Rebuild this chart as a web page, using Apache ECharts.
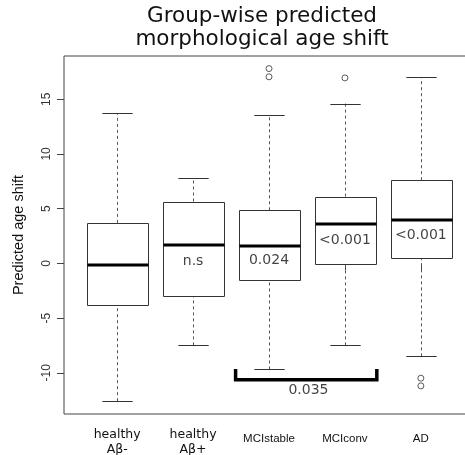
<!DOCTYPE html>
<html><head><meta charset="utf-8">
<script src="https://cdn.jsdelivr.net/npm/echarts@6/dist/echarts.min.js"></script>
<style>html,body{margin:0;padding:0;background:#fff}#c{width:465px;height:455px}</style>
</head><body><div id="c"></div>
<script>
const categories = ['healthy\nAβ-', 'healthy\nAβ+', 'MCIstable', 'MCIconv', 'AD'];
const lowerWhisker = [-12.6, -7.5, -9.7, -7.5, -8.5];
const q1 = [-3.8, -2.9, -1.55, 0.0, 0.45];
const median = [-0.15, 1.7, 1.55, 3.55, 4.0];
const q3 = [3.7, 5.65, 4.85, 6.1, 7.6];
const upperWhisker = [13.7, 7.8, 13.6, 14.6, 17.0];
const outlierGroup = [3, 3, 4, 5, 5];
const outlierValue = [17.8, 17.05, 16.95, -10.5, -11.2];
const yTicks = [-10, -5, 0, 5, 10, 15];
const xTicks = [1, 2, 3, 4, 5];
const pLabels = ['n.s', '0.024', '<0.001', '<0.001'];
const pGroup = [2, 3, 4, 5];
const pY = [0.15, 0.25, 2.1, 2.55];
const bracketX = [2.56, 2.56, 4.42, 4.42];
const bracketY = [-9.65, -10.65, -10.65, -9.65];
const bracketLabel = '0.035';
const bracketLabelPos = [3.52, -11.65];

const boxData = categories.map((c, i) => [i + 1, lowerWhisker[i], q1[i], median[i], q3[i], upperWhisker[i]]);

function px(v) { return Math.round(v) + 0.5; }

function renderBox(params, api) {
  const x = api.value(0);
  const pLow = api.coord([x, api.value(1)]);
  const pQ1 = api.coord([x, api.value(2)]);
  const pMed = api.coord([x, api.value(3)]);
  const pQ3 = api.coord([x, api.value(4)]);
  const pHigh = api.coord([x, api.value(5)]);
  const w = api.size([0.8, 0])[0];
  const cx = px(pMed[0]);
  const hw = w / 2, cw = w / 4;
  const dash = { stroke: '#555', lineWidth: 1, lineDash: [3, 3] };
  const solid = { stroke: '#333', lineWidth: 1 };
  return {
    type: 'group',
    children: [
      { type: 'line', shape: { x1: cx, y1: pLow[1], x2: cx, y2: pQ1[1] }, style: dash },
      { type: 'line', shape: { x1: cx, y1: pQ3[1], x2: cx, y2: pHigh[1] }, style: dash },
      { type: 'line', shape: { x1: cx - cw, y1: px(pLow[1]), x2: cx + cw, y2: px(pLow[1]) }, style: solid },
      { type: 'line', shape: { x1: cx - cw, y1: px(pHigh[1]), x2: cx + cw, y2: px(pHigh[1]) }, style: solid },
      { type: 'rect', shape: { x: Math.round(cx - hw) + 0.5, y: px(pQ3[1]), width: Math.round(w), height: Math.round(pQ1[1] - pQ3[1]) }, style: { fill: '#fff', stroke: '#333', lineWidth: 1 } },
      { type: 'line', shape: { x1: Math.round(cx - hw) + 0.5, y1: Math.round(pMed[1]), x2: Math.round(cx - hw) + 0.5 + Math.round(w), y2: Math.round(pMed[1]) }, style: { stroke: '#000', lineWidth: 3 } }
    ]
  };
}

const chart = echarts.init(document.getElementById('c'));
chart.setOption({
  animation: false,
  backgroundColor: '#fff',
  title: {
    text: 'Group-wise predicted\nmorphological age shift',
    left: 262, top: 5, padding: 0, textAlign: 'center',
    textStyle: { fontFamily: 'DejaVu Sans', fontSize: 21.5, fontWeight: 'normal', color: '#111', lineHeight: 23 }
  },
  grid: { left: 64, top: 56, width: 410, height: 358, outerBoundsMode: 'none', containLabel: false, show: true, borderColor: '#444', borderWidth: 1, backgroundColor: 'transparent' },
  xAxis: {
    type: 'value', min: 0.3, max: 5.7,
    axisLine: { show: false }, splitLine: { show: false },
    axisTick: { show: true, customValues: xTicks, length: 7, lineStyle: { color: '#444' } },
    axisLabel: {
      customValues: xTicks, margin: 28, verticalAlign: 'middle',
      formatter: function (v) {
        const c = categories[Math.round(v) - 1];
        if (!c) return '';
        if (c.indexOf('\n') >= 0) return c.split('\n').map(s => '{a|' + s + '}').join('\n');
        return '{b|' + c + '}';
      },
      rich: {
        a: { fontFamily: 'DejaVu Sans', fontSize: 12.5, color: '#111', lineHeight: 14.5 },
        b: { fontFamily: 'Liberation Sans', fontSize: 11.5, color: '#111', lineHeight: 14, padding: [0, 0, 6, 0] }
      }
    }
  },
  yAxis: {
    type: 'value', min: -13.77, max: 18.95,
    axisLine: { show: false }, splitLine: { show: false },
    axisTick: { show: true, customValues: yTicks, length: 7, lineStyle: { color: '#444' } },
    axisLabel: { customValues: yTicks, rotate: 90, margin: 11, fontFamily: 'Liberation Sans', fontSize: 12, color: '#333' },
    name: 'Predicted age shift', nameLocation: 'middle', nameGap: 38,
    nameTextStyle: { fontFamily: 'Liberation Sans', fontSize: 14.5, color: '#111' }
  },
  series: [
    {
      type: 'custom', renderItem: renderBox, data: boxData,
      encode: { x: 0, y: [1, 2, 3, 4, 5] }, silent: true
    },
    {
      type: 'scatter', symbol: 'circle', symbolSize: 6,
      data: outlierGroup.map((g, i) => [g, outlierValue[i]]),
      itemStyle: { color: '#fff', borderColor: '#333', borderWidth: 1 }, silent: true
    },
    {
      type: 'line', symbol: 'none',
      data: bracketX.map((x, i) => [x, bracketY[i]]),
      lineStyle: { color: '#000', width: 3.5, cap: 'butt', join: 'miter' }, silent: true
    },
    {
      type: 'scatter', symbolSize: 1, itemStyle: { color: 'rgba(0,0,0,0)' },
      data: pGroup.map((g, i) => [g, pY[i]]).concat([bracketLabelPos]),
      label: {
        show: true, position: 'inside',
        formatter: p => p.dataIndex < pLabels.length ? pLabels[p.dataIndex] : bracketLabel,
        fontFamily: 'DejaVu Sans', fontSize: 14, color: '#111'
      },
      silent: true
    }
  ]
});
</script></body></html>
